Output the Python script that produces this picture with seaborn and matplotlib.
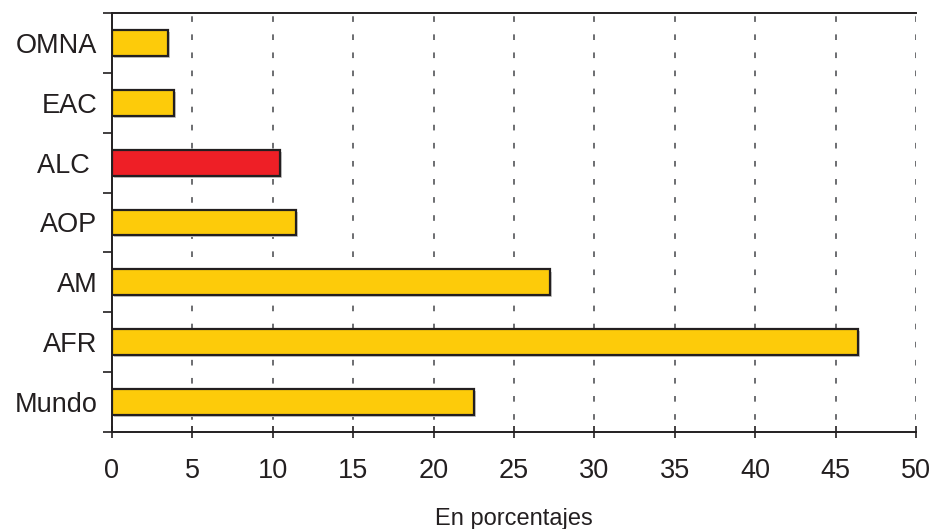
import matplotlib
matplotlib.use("Agg")
import matplotlib.pyplot as plt
import matplotlib.patheffects as pe
import seaborn as sns
import pandas as pd
import numpy as np

# Regional values (percent)
regions = ["OMNA", "EAC", "ALC ", "AOP", "AM", "AFR", "Mundo"]
values = [3.5, 3.85, 10.45, 11.45, 27.25, 46.4, 22.5]
highlight = ["no", "no", "yes", "no", "no", "no", "no"]
x_ticks = [0, 5, 10, 15, 20, 25, 30, 35, 40, 45, 50]

palette = {"no": "#FDCB0A", "yes": "#EE1F26"}
ink = "#231F20"

sns.set_theme(style="white")
plt.rcParams["font.family"] = ["Liberation Sans", "DejaVu Sans"]

df = pd.DataFrame({"region": regions, "value": values, "hl": highlight})

fig = plt.figure(figsize=(9.3, 5.29), dpi=100)
ax = fig.add_axes([0.1204, 0.1834, 0.985 - 0.1204, 0.9754 - 0.1834])

sns.barplot(data=df, y="region", x="value", hue="hl", palette=palette,
            order=regions, hue_order=["no", "yes"], dodge=False,
            width=0.43, edgecolor=ink, linewidth=1.6, legend=False,
            saturation=1, ax=ax, zorder=3)

# soft drop shadow under each bar
for bar in ax.patches:
    bar.set_path_effects([pe.SimplePatchShadow(offset=(1.5, -1.5),
                                               shadow_rgbFace="#c8c8c8", alpha=1),
                          pe.Normal()])

ax.set_xlim(0, 50)
ax.set_ylim(6.5, -0.5)
ax.set_xticks(x_ticks)
ax.set_xticklabels([str(t) for t in x_ticks], fontsize=19.5, color=ink)

# vertical dashed guides
for t in x_ticks[1:]:
    ax.axvline(t, color="#6D6E71", linestyle=(3, (2.9, 6.4)), linewidth=1.4, zorder=1)

# category labels, with ticks on the boundaries between bars
ax.set_yticks(range(len(regions)))
ax.set_yticklabels(regions, fontsize=19.5, color=ink)
ax.tick_params(left=True, bottom=True)
ax.tick_params(axis="y", which="major", length=0, pad=10.5)
ax.set_yticks(np.arange(-0.5, len(regions), 1.0), minor=True)
ax.tick_params(axis="y", which="minor", left=True, length=6.5, width=1.2,
               color=ink, direction="out")
ax.tick_params(axis="x", which="major", length=9, width=1.2, color=ink,
               direction="inout", pad=14.5)

ax.set_xlabel("En porcentajes", fontsize=17, color=ink, labelpad=17)
ax.set_ylabel("")

for side in ["left", "bottom", "top"]:
    ax.spines[side].set_visible(True)
    ax.spines[side].set_color(ink)
    ax.spines[side].set_linewidth(1.4)
ax.spines["right"].set_visible(False)

fig.savefig("out.png", dpi=100)
